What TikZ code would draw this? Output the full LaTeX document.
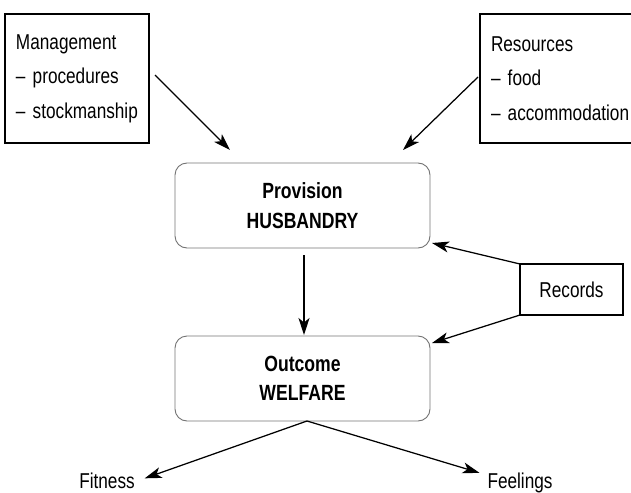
\documentclass[tikz,border=0pt]{standalone}
\usepackage{fontspec}
\setmainfont[FakeStretch=0.8]{Liberation Sans}
\usetikzlibrary{arrows.meta}
\begin{document}
\begin{tikzpicture}[x=1pt,y=-1pt,
  every node/.style={inner sep=0pt, outer sep=0pt},
  sidebox/.style={draw=black, line width=1.1pt, rectangle, anchor=north west,
    minimum height=129pt, align=left, inner xsep=11pt,
    font=\fontsize{21.5}{34.5}\selectfont},
  corebox/.style={draw=black!55, line width=0.9pt, rounded corners=12pt,
    minimum width=255pt, minimum height=85pt, align=center,
    font=\bfseries\fontsize{22}{29.5}\selectfont},
  recbox/.style={draw=black, line width=1.1pt, minimum width=103pt,
    minimum height=51pt, font=\fontsize{21.5}{24}\selectfont},
  plaintext/.style={font=\fontsize{21.5}{24}\selectfont},
  arr/.style={draw=black, line width=1.25pt,
    -{Stealth[length=17pt,width=11pt,inset=4.5pt]}}
]
\useasboundingbox (0,0) rectangle (631,492);

\node[sidebox, text width=122pt] (mgmt) at (5,14)
  {Management\\– procedures\\– stockmanship};
\node[sidebox, text width=150pt] (res) at (480,14)
  {Resources\\– food\\– accommodation};
\node[corebox] (prov) at (302.5,205.5) {Provision\\HUSBANDRY};
\node[corebox] (outc) at (302.5,378.5) {Outcome\\WELFARE};
\node[recbox] (rec) at (571.5,289.5) {Records};
\node[plaintext, anchor=base] (fit) at (107,488) {Fitness};
\node[plaintext, anchor=base] (feel) at (520,488) {Feelings};

\draw[arr] ([shift={(6,-3.5)}]mgmt.east) -- ([shift={(55,-13)}]prov.north west);
\draw[arr] ([shift={(-2,-1.5)}]res.west) -- ([shift={(-27,-13)}]prov.north east);
\draw[arr] ([shift={(1.5,7)}]prov.south) -- ([shift={(1.5,-1)}]outc.north);
\draw[arr] (rec.north west) -- ([shift={(2,-5)}]prov.south east);
\draw[arr] (rec.south west) -- ([shift={(2,7)}]outc.north east);
\draw[arr] ([shift={(4.5,0)}]outc.south) -- ([shift={(10,-2)}]fit.east);
\draw[arr] ([shift={(4.5,0)}]outc.south) -- ([shift={(-8,-9.6)}]feel.west);
\end{tikzpicture}
\end{document}
